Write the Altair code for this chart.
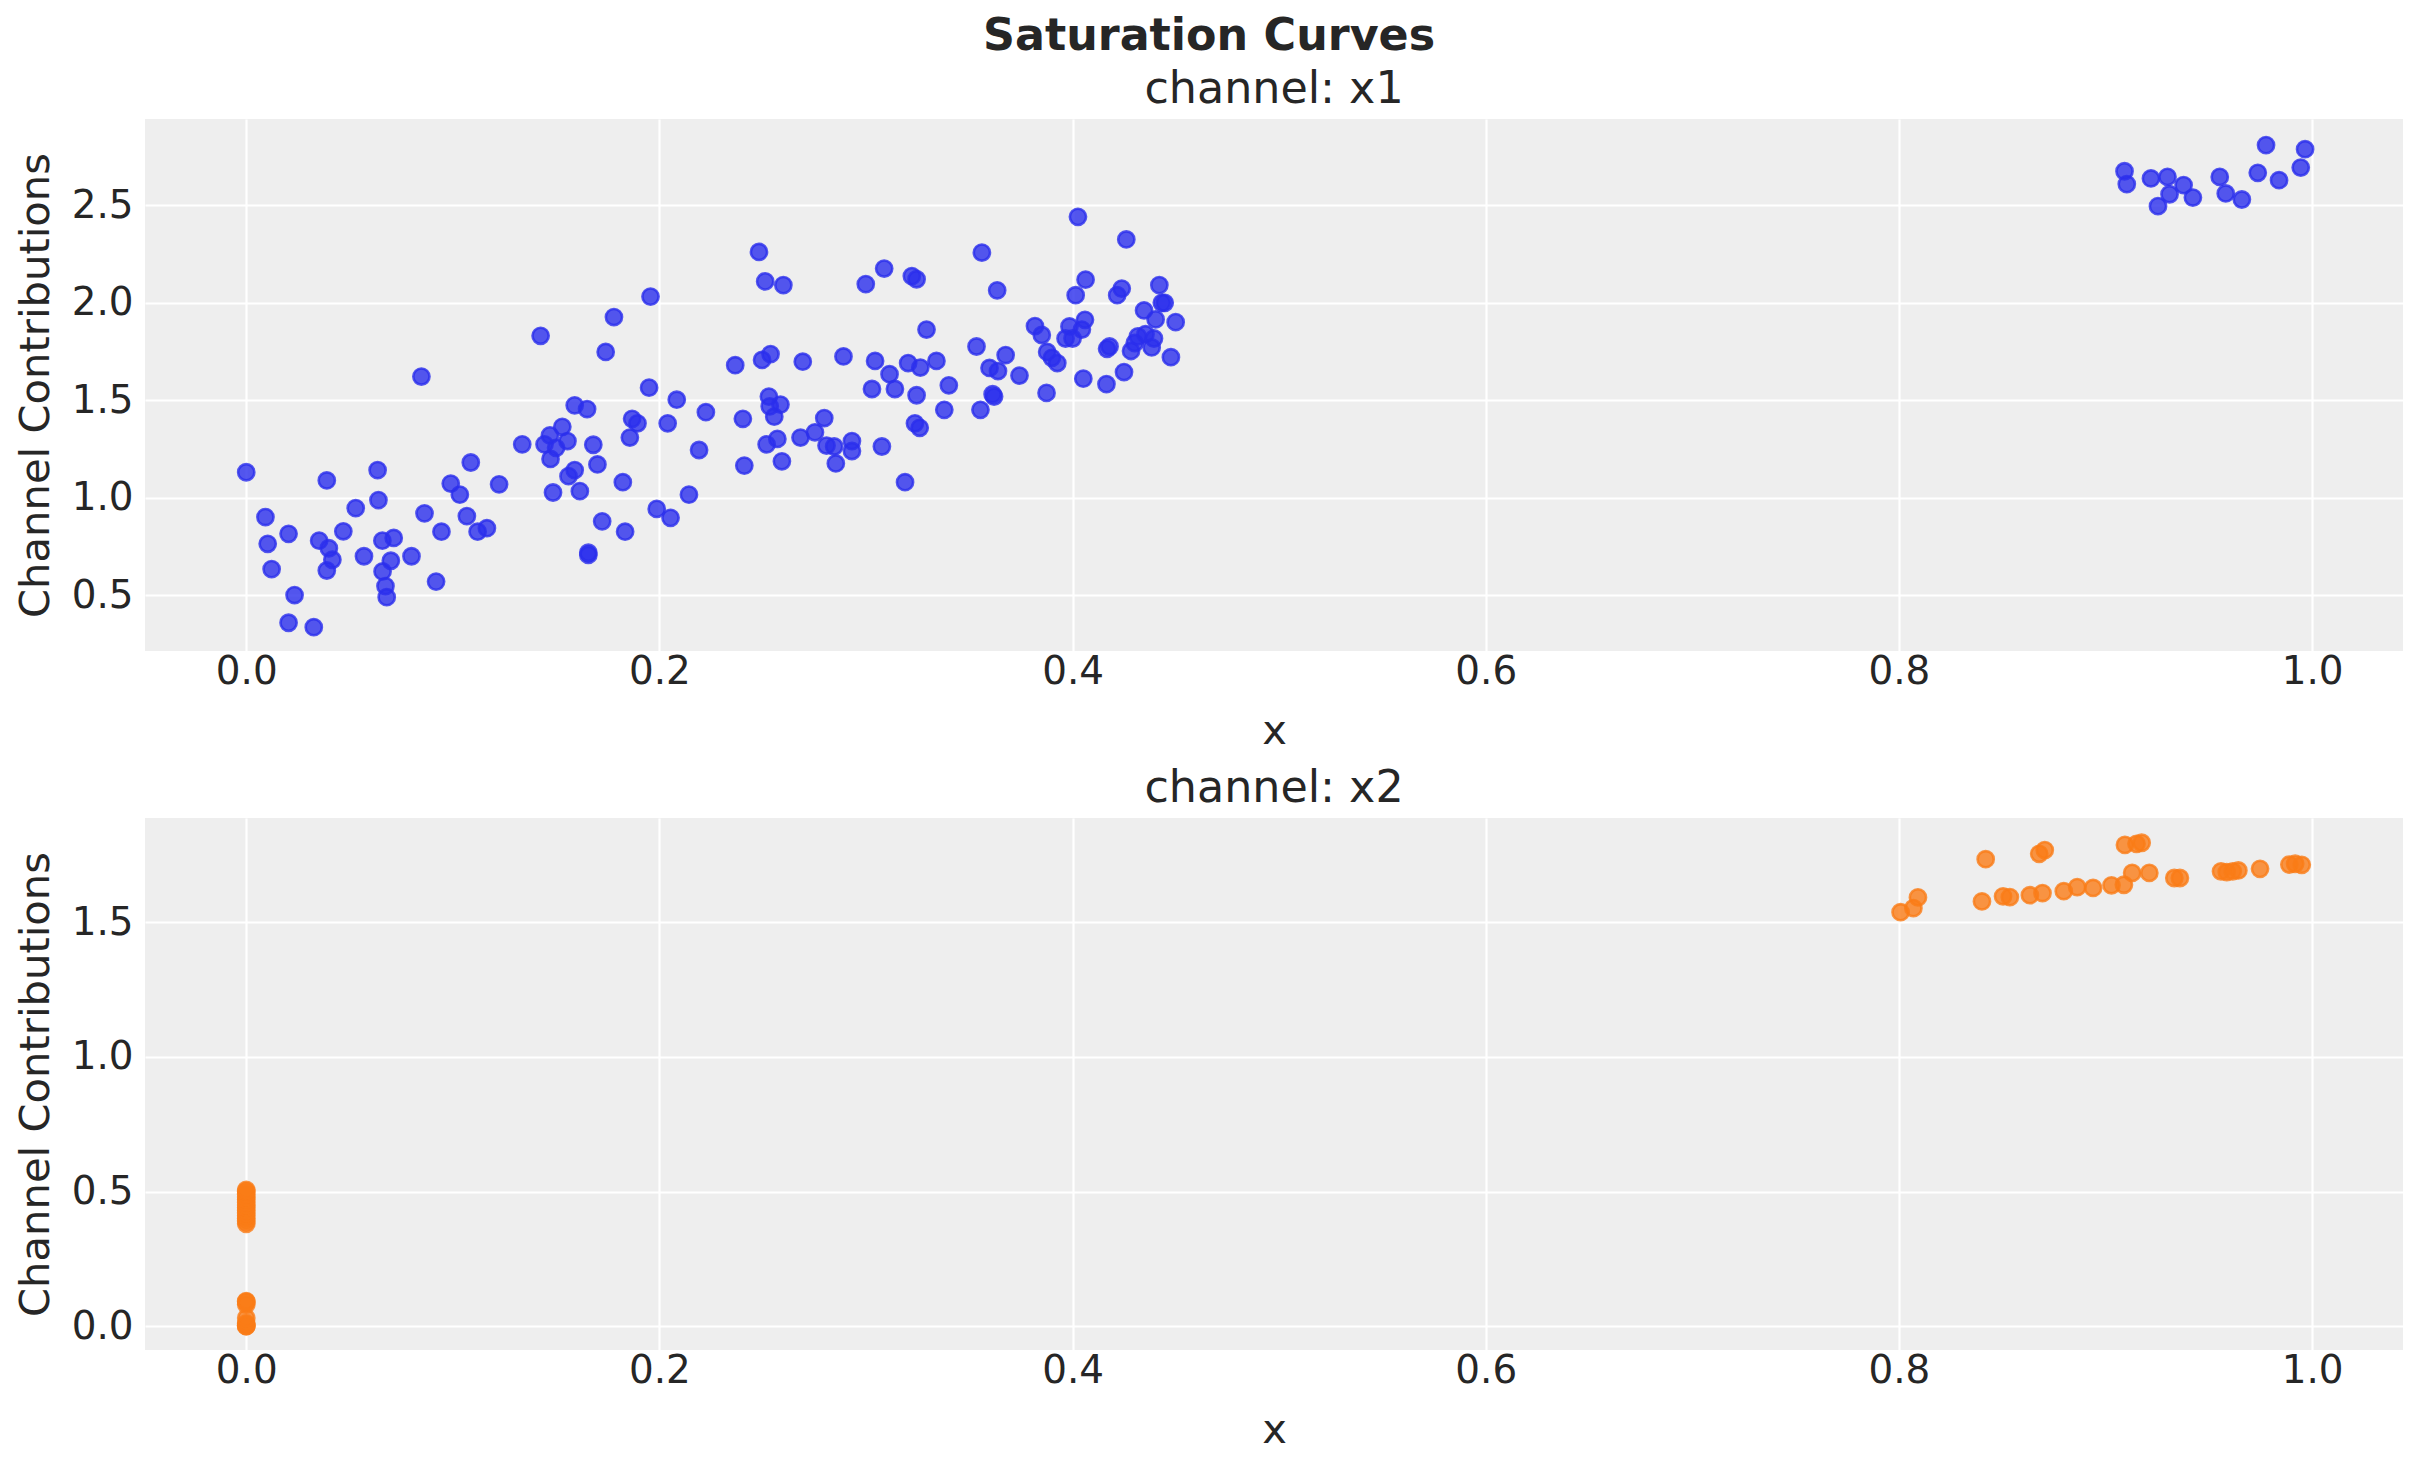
import altair as alt
import pandas as pd

# channel x1 data
x1_x = [0.0, 0.0093, 0.0104, 0.0123, 0.0205, 0.0234, 0.0205, 0.0327, 0.0353, 0.039,
        0.040, 0.039, 0.0417, 0.047, 0.053, 0.057, 0.0636, 0.064, 0.0659, 0.066,
        0.0674, 0.068, 0.070, 0.0714, 0.080, 0.0848, 0.0863, 0.0919, 0.0945, 0.099,
        0.1034, 0.1068, 0.1087, 0.112, 0.1165, 0.1224, 0.1336, 0.1425, 0.1444, 0.147,
        0.1473, 0.1485, 0.150, 0.153, 0.1555, 0.156, 0.159, 0.159, 0.1615, 0.165,
        0.1656, 0.1656, 0.168, 0.170, 0.1723, 0.174, 0.178, 0.1823, 0.1834, 0.1857,
        0.1868, 0.1894, 0.195, 0.1957, 0.1987, 0.204, 0.2054, 0.2084, 0.2143, 0.2192,
        0.2225, 0.2367, 0.2404, 0.2411, 0.2482, 0.2497, 0.2512, 0.2519, 0.253, 0.2538,
        0.2534, 0.2556, 0.2571, 0.2586, 0.2593, 0.260, 0.2683, 0.2694, 0.2753, 0.2798,
        0.2809, 0.2846, 0.2854, 0.2891, 0.2932, 0.2932, 0.2999, 0.3029, 0.3044, 0.3077,
        0.3088, 0.3114, 0.314, 0.3189, 0.3204, 0.3222, 0.3245, 0.3245, 0.3237, 0.326,
        0.3263, 0.3293, 0.3341, 0.3379, 0.3401, 0.3535, 0.3554, 0.3561, 0.3598, 0.3613,
        0.362, 0.3635, 0.3639, 0.3676, 0.3743, 0.3818, 0.3851, 0.3874, 0.3877, 0.390,
        0.3926, 0.3966, 0.3985, 0.400, 0.4015, 0.4026, 0.4045, 0.406, 0.4052, 0.4063,
        0.4164, 0.4167, 0.4179, 0.4216, 0.4238, 0.4249, 0.426, 0.4283, 0.4301, 0.4316,
        0.4346, 0.4353, 0.4383, 0.4394, 0.4402, 0.442, 0.4432, 0.4446, 0.4476, 0.4499,
        0.9092, 0.9103, 0.922, 0.9254, 0.930, 0.931, 0.9378, 0.9423, 0.9553, 0.9582,
        0.966, 0.9737, 0.9777, 0.984, 0.9945, 0.9966]
x1_y = [1.13, 0.90, 0.763, 0.633, 0.814, 0.50, 0.358, 0.335, 0.779, 1.088,
        0.74, 0.626, 0.681, 0.827, 0.946, 0.699, 1.141, 0.987, 0.779, 0.621,
        0.546, 0.489, 0.676, 0.793, 0.699, 1.621, 0.919, 0.569, 0.825, 1.072,
        1.015, 0.905, 1.18, 0.825, 0.843, 1.068, 1.273, 1.83, 1.273, 1.319,
        1.198, 1.026, 1.255, 1.363, 1.29, 1.11, 1.141, 1.473, 1.033, 1.454,
        0.717, 0.706, 1.271, 1.17, 0.878, 1.747, 1.926, 1.079, 0.825, 1.308,
        1.404, 1.381, 1.564, 2.031, 0.942, 1.381, 0.896, 1.502, 1.015, 1.244,
        1.438, 1.679, 1.404, 1.164, 2.26, 1.706, 2.109, 1.273, 1.518, 1.736,
        1.468, 1.415, 1.301, 1.477, 1.186, 2.09, 1.308, 1.697, 1.335, 1.408,
        1.267, 1.262, 1.175, 1.724, 1.29, 1.239, 2.095, 1.557, 1.701, 1.262,
        2.175, 1.633, 1.557, 1.079, 1.69, 2.136, 2.12, 1.525, 1.381, 1.358,
        1.667, 1.862, 1.701, 1.45, 1.576, 1.775, 1.45, 2.257, 1.665, 1.53,
        1.518, 2.063, 1.649, 1.731, 1.626, 1.88, 1.834, 1.537, 1.747, 1.717,
        1.69, 1.816, 1.878, 1.816, 2.038, 2.44, 1.862, 1.912, 1.61, 2.118,
        1.582, 1.763, 1.775, 2.038, 2.072, 1.644, 2.324, 1.752, 1.793, 1.827,
        1.96, 1.838, 1.77, 1.816, 1.914, 2.09, 1.999, 1.999, 1.72, 1.9,
        2.674, 2.608, 2.637, 2.495, 2.645, 2.556, 2.603, 2.539, 2.645, 2.56,
        2.529, 2.666, 2.808, 2.628, 2.693, 2.787]

# channel x2 data
x2_x = [0.0] * 22 + [
        0.8008, 0.807, 0.8092, 0.8402, 0.842, 0.8504, 0.8537, 0.8634, 0.8679, 0.8706,
        0.8695, 0.8798, 0.8863, 0.894, 0.9029, 0.9089, 0.9094, 0.915, 0.9175, 0.9129,
        0.9212, 0.9333, 0.936, 0.9559, 0.9587, 0.9616, 0.9643, 0.9748, 0.989, 0.9918,
        0.995]
x2_y = [0.38, 0.39, 0.40, 0.41, 0.42, 0.43, 0.44, 0.45, 0.46, 0.47,
        0.48, 0.49, 0.50, 0.506, 0.0, 0.0, 0.004, 0.01, 0.03, 0.08,
        0.09, 0.093] + [
        1.538, 1.553, 1.593, 1.578, 1.735, 1.597, 1.594, 1.601, 1.755, 1.769,
        1.609, 1.616, 1.631, 1.628, 1.638, 1.64, 1.788, 1.792, 1.796, 1.684,
        1.684, 1.665, 1.665, 1.69, 1.687, 1.69, 1.693, 1.699, 1.715, 1.718,
        1.714]

x_ticks = [0.0, 0.2, 0.4, 0.6, 0.8, 1.0]
y1_ticks = [0.5, 1.0, 1.5, 2.0, 2.5]
y2_ticks = [0.0, 0.5, 1.0, 1.5]

FONT = "DejaVu Sans"
TXT = "#262626"
W, H = 2258, 532


def panel(xs, ys, color, title, ydom, yticks):
    df = pd.DataFrame({"x": xs, "y": ys})
    return alt.Chart(
        df,
        title=alt.TitleParams(title, fontSize=44.4, font=FONT, fontWeight="normal",
                              color=TXT, anchor="middle", frame="group",
                              baseline="alphabetic", offset=-28),
    ).mark_circle(
        size=262, color=color, fillOpacity=0.8, stroke=color, strokeOpacity=0.8,
        strokeWidth=2.6, opacity=1,
    ).encode(
        x=alt.X("x:Q", title="x",
                scale=alt.Scale(domain=[-0.049, 1.044], nice=False, zero=False),
                axis=alt.Axis(values=x_ticks, format=".1f")),
        y=alt.Y("y:Q", title="Channel Contributions",
                scale=alt.Scale(domain=ydom, nice=False, zero=False),
                axis=alt.Axis(values=yticks, format=".1f")),
    ).properties(width=W, height=H)


p1 = panel(x1_x, x1_y, "#2a2eec", "channel: x1", [0.213, 2.942], y1_ticks)
p2 = panel(x2_x, x2_y, "#fa7c17", "channel: x2", [-0.089, 1.888], y2_ticks)

chart = alt.vconcat(p1, p2, spacing=12).properties(
    title=alt.TitleParams("Saturation Curves", fontSize=44.4, font=FONT,
                          fontWeight="bold", color=TXT, anchor="middle",
                          baseline="alphabetic", offset=-28),
    padding={"left": 7, "top": 6, "right": 3, "bottom": 5},
    background="white",
).configure_view(
    fill="#eeeeee", stroke=None,
).configure_axis(
    labelFont=FONT, titleFont=FONT, labelFontSize=38.9, titleFontSize=41.7,
    labelColor=TXT, titleColor=TXT, titleFontWeight="normal",
    grid=True, gridColor="white", gridWidth=2.2, gridOpacity=1,
    domain=False, ticks=False, tickSize=0,
).configure_axisX(
    labelPadding=1, titlePadding=20,
).configure_axisY(
    labelPadding=12, titlePadding=14,
)

chart.save("out.html", embed_options={"renderer": "svg", "actions": False})
